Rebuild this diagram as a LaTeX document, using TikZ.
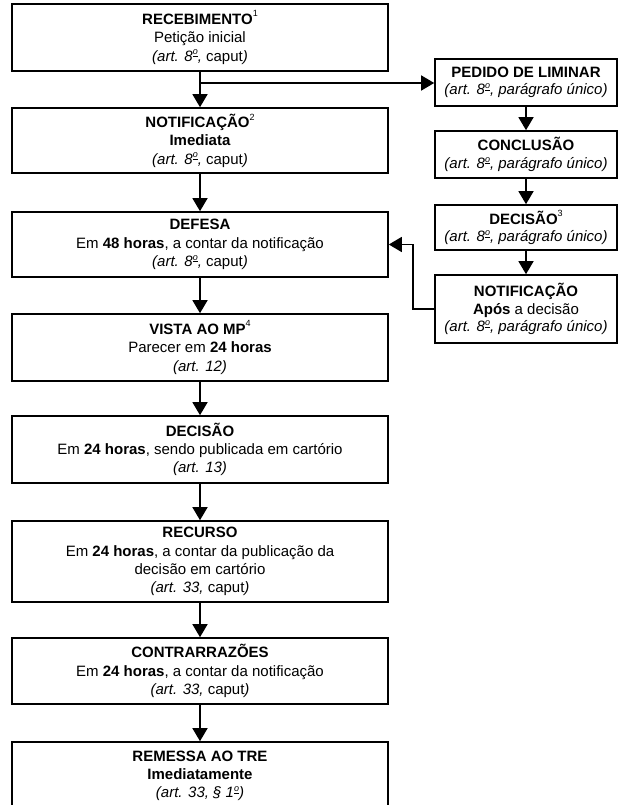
\documentclass[tikz,border=0pt]{standalone}
\usepackage{fontspec}
\setmainfont{Liberation Sans}
\usetikzlibrary{arrows.meta}
\newcommand\fnref[1]{\raisebox{0.5em}{\mdseries\fontsize{9}{9}\selectfont #1}}
\newcommand\ordm{\raisebox{0.42em}{\fontsize{9}{9}\selectfont\underline{o}}}
\newcommand\art[1]{{\itshape #1}}
\begin{document}
\begin{tikzpicture}[x=1pt,y=-1pt,
  stagebox/.style={draw, line width=1.6pt, inner sep=0pt, align=center,
    font=\fontsize{15}{18.3}\selectfont, minimum width=376pt},
  sidebox/.style={draw, line width=1.6pt, inner sep=0pt, align=center,
    font=\fontsize{15}{17.6}\selectfont, minimum width=182pt},
  conn/.style={line width=1.4pt, -{Triangle[length=13pt,width=15pt]}}]
\useasboundingbox (0,0) rectangle (619,805);

% main sequence
\node[stagebox, minimum height=67pt] (b1) at (200,37.5)
  {\textbf{RECEBIMENTO}\fnref{1}\\Petição inicial\\\art{(art. 8\ordm,} caput\art{)}};
\node[stagebox, minimum height=65pt] (b2) at (200,140.5)
  {\textbf{NOTIFICAÇÃO}\fnref{2}\\\textbf{Imediata}\\\art{(art. 8\ordm,} caput\art{)}};
\node[stagebox, minimum height=65pt] (b3) at (200,244.5)
  {\textbf{DEFESA}\\Em \textbf{48 horas}, a contar da notificação\\\art{(art. 8\ordm,} caput\art{)}};
\node[stagebox, minimum height=67pt] (b4) at (200,347.5)
  {\textbf{VISTA AO MP}\fnref{4}\\Parecer em \textbf{24 horas}\\\art{(art. 12)}};
\node[stagebox, minimum height=67pt] (b5) at (200,449.5)
  {\textbf{DECISÃO}\\Em \textbf{24 horas}, sendo publicada em cartório\\\art{(art. 13)}};
\node[stagebox, minimum height=81pt] (b6) at (200,561.5)
  {\textbf{RECURSO}\\Em \textbf{24 horas}, a contar da publicação da\\decisão em cartório\\\art{(art. 33,} caput\art{)}};
\node[stagebox, minimum height=66pt] (b7) at (200,671)
  {\textbf{CONTRARRAZÕES}\\Em \textbf{24 horas}, a contar da notificação\\\art{(art. 33,} caput\art{)}};
\node[stagebox, minimum height=68pt] (b8) at (200,776)
  {\textbf{REMESSA AO TRE}\\\textbf{Imediatamente}\\\art{(art. 33, § 1\ordm)}};

% injunction branch
\node[sidebox, minimum height=47pt] (r1) at (526,82.5)
  {\textbf{PEDIDO DE LIMINAR}\\\art{(art. 8\ordm, parágrafo único)}};
\node[sidebox, minimum height=47pt] (r2) at (526,154.5)
  {\textbf{CONCLUSÃO}\\\art{(art. 8\ordm, parágrafo único)}};
\node[sidebox, minimum height=45pt] (r3) at (526,227.5)
  {\textbf{DECISÃO}\fnref{3}\\\art{(art. 8\ordm, parágrafo único)}};
\node[sidebox, minimum height=68pt] (r4) at (526,309)
  {\textbf{NOTIFICAÇÃO}\\\textbf{Após} a decisão\\\art{(art. 8\ordm, parágrafo único)}};

% connectors
\draw[conn] (b1) -- (b2);
\draw[conn] (b2) -- (b3);
\draw[conn] (b3) -- (b4);
\draw[conn] (b4) -- (b5);
\draw[conn] (b5) -- (b6);
\draw[conn] (b6) -- (b7);
\draw[conn] (b7) -- (b8);

\coordinate (split) at (200,83);
\draw[conn] (split) -- (split -| r1.west);
\draw[conn] (r1) -- (r2);
\draw[conn] (r2) -- (r3);
\draw[conn] (r3) -- (r4);
\coordinate (bend) at (413,309);
\draw[conn] (r4.west) -- (bend) |- (b3.east);
\end{tikzpicture}
\end{document}
